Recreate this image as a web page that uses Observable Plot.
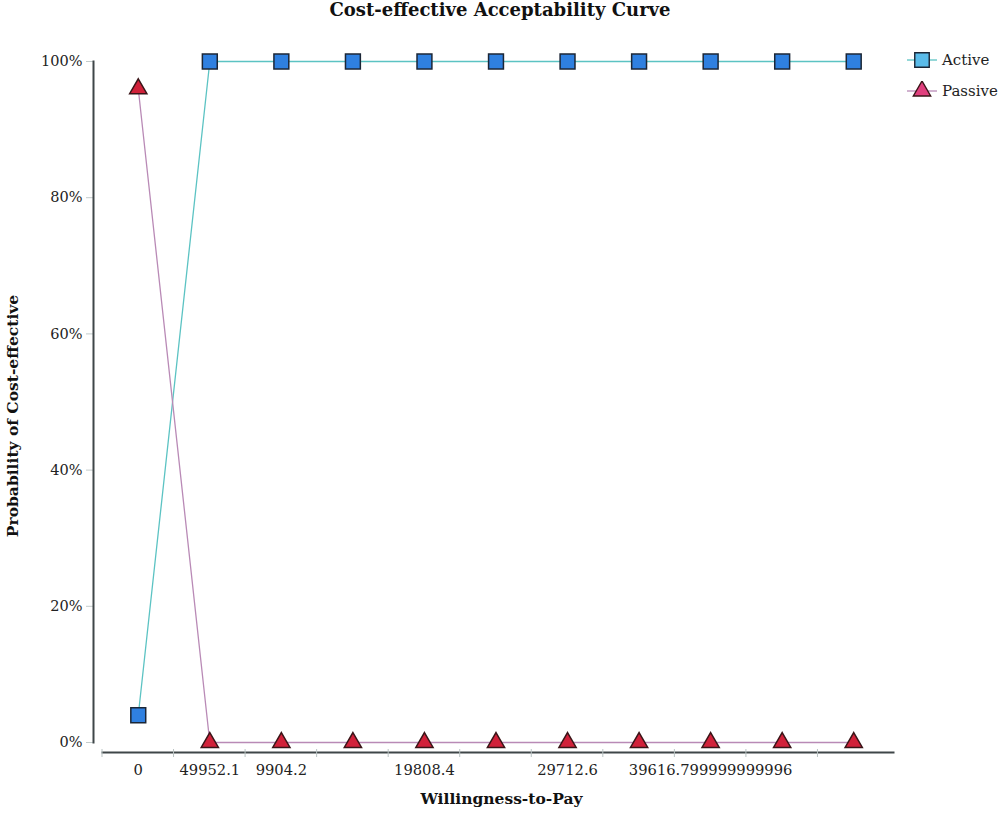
<!DOCTYPE html>
<html>
<head>
<meta charset="utf-8">
<script src="https://cdn.jsdelivr.net/npm/d3@7"></script>
<script src="https://cdn.jsdelivr.net/npm/@observablehq/plot@0.6"></script>
<style>
  body { margin: 0; background: #fff; font-family: "DejaVu Serif", serif; }
  #wrap { position: relative; width: 1000px; height: 814px; }
  #title { height: 20px; line-height: 20px; text-align: center; font-weight: bold; font-size: 18px; color: #111; }
  #legend { position: absolute; left: 906px; top: 44px; font-size: 15px; color: #222; }
  .li { display: flex; align-items: center; height: 31px; }
  .li svg { margin-right: 4px; }
</style>
</head>
<body>
<div id="wrap">
  <div id="title">Cost-effective Acceptability Curve</div>
  <div id="chart"></div>
  <div id="legend"></div>
</div>
<script>
const xKeys = [0, 1, 2, 3, 4, 5, 6, 7, 8, 9, 10];
const xLabels = ["0", "49952.1", "9904.2", "", "19808.4", "", "29712.6", "", "39616.799999999996", "", ""];
const activeValues = [4, 100, 100, 100, 100, 100, 100, 100, 100, 100, 100];
const passiveValues = [96, 0, 0, 0, 0, 0, 0, 0, 0, 0, 0];
const yTicks = [0, 20, 40, 60, 80, 100];
const seriesNames = ["Active", "Passive"];

const activeData = xKeys.map((k, i) => ({x: k, y: activeValues[i]}));
const passiveData = xKeys.map((k, i) => ({x: k, y: passiveValues[i]}));

const font = "DejaVu Serif";

const bandTicks = (index, scales, values, dimensions) => {
  const g = d3.create("svg:g");
  const yb = dimensions.height - dimensions.marginBottom + 10;
  g.selectAll("line").data(xKeys).join("line")
    .attr("x1", d => scales.x(d)).attr("x2", d => scales.x(d))
    .attr("y1", yb - 3).attr("y2", yb + 5)
    .attr("stroke", "#b9c3c3").attr("stroke-width", 1);
  return g.node();
};

const chart = Plot.plot({
  width: 1000,
  height: 794,
  marginLeft: 93,
  marginRight: 107,
  marginTop: 41,
  marginBottom: 72,
  style: {fontFamily: font, fontSize: "14px", color: "#222", background: "transparent"},
  x: {type: "band", domain: xKeys, range: [102, 889], padding: 0, round: false, axis: null},
  y: {domain: [0, 100], axis: null},
  marks: [
    Plot.axisY({ticks: yTicks, tickFormat: d => d + "%", tickSize: 7, tickPadding: 4, stroke: "#c3cccc", fill: "#222", fontSize: 14.5, label: null}),
    Plot.frame({anchor: "left", stroke: "#3f4648", strokeWidth: 2}),
    Plot.frame({anchor: "bottom", stroke: "#3f4648", strokeWidth: 2, dy: 10, insetLeft: 9}),
    bandTicks,
    Plot.axisX({tickFormat: i => xLabels[i], tickSize: 0, tickPadding: 22, fill: "#222", fontSize: 14.7, label: null}),
    Plot.line(activeData, {x: "x", y: "y", stroke: "#5cc3c3", strokeWidth: 1.3}),
    Plot.line(passiveData, {x: "x", y: "y", stroke: "#b98ab6", strokeWidth: 1.3}),
    Plot.dot(activeData, {x: "x", y: "y", symbol: "square", r: 8.4, fill: "#2f80e0", stroke: "#1b2636", strokeWidth: 1.5}),
    Plot.dot(passiveData, {x: "x", y: "y", symbol: "triangle", r: 6.4, fill: "#d1213a", stroke: "#3a1518", strokeWidth: 1.5}),
    Plot.text(["Willingness-to-Pay"], {frameAnchor: "bottom", dy: 61, dx: 8, text: d => d, fontWeight: "bold", fontSize: 15.5, fill: "#111"}),
    Plot.text(["Probability of Cost-effective"], {frameAnchor: "left", textAnchor: "middle", dx: -80, dy: 14, rotate: -90, text: d => d, fontWeight: "bold", fontSize: 15.5, fill: "#111"})
  ]
});
document.getElementById("chart").appendChild(chart);

// legend
const legend = document.getElementById("legend");
const legendStyles = [
  {line: "#5cc3c3", fill: "#5bbcea", stroke: "#1b2636", sym: d3.symbolSquare},
  {line: "#b98ab6", fill: "#e0407e", stroke: "#3a1518", sym: d3.symbolTriangle}
];
seriesNames.forEach((name, i) => {
  const st = legendStyles[i];
  const row = document.createElement("div");
  row.className = "li";
  const svg = d3.create("svg").attr("width", 32).attr("height", 20);
  svg.append("line").attr("x1", 1).attr("x2", 31).attr("y1", 10).attr("y2", 10).attr("stroke", st.line).attr("stroke-width", 1.3);
  svg.append("path").attr("transform", "translate(16,10)")
    .attr("d", d3.symbol(st.sym, i === 0 ? 210 : 130)())
    .attr("fill", st.fill).attr("stroke", st.stroke).attr("stroke-width", 1.4);
  row.appendChild(svg.node());
  const span = document.createElement("span");
  span.textContent = name;
  row.appendChild(span);
  legend.appendChild(row);
});
</script>
</body>
</html>
